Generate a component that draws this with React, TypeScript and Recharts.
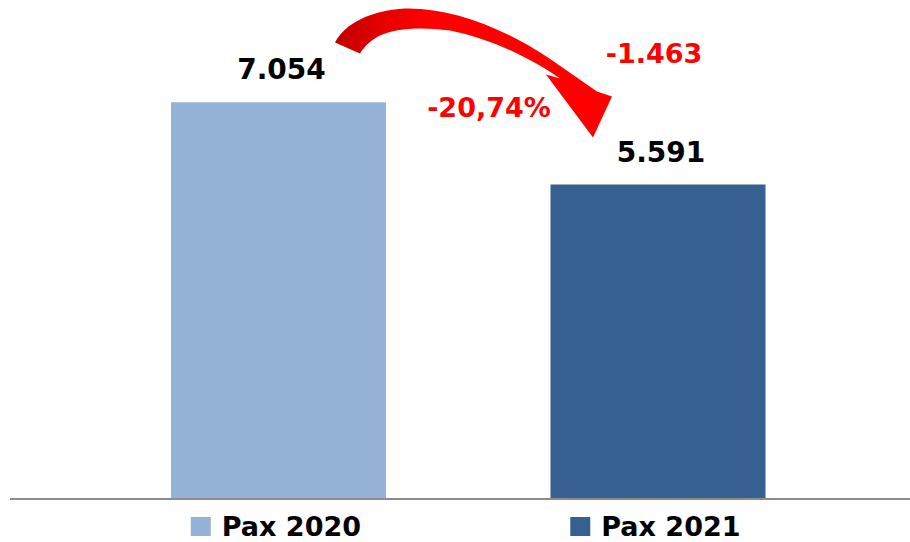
import React from 'react';
import { BarChart, Bar, XAxis, YAxis, Cell, LabelList } from 'recharts';

const categories = ['Pax 2020', 'Pax 2021'];
const paxValues = [7054, 5591];
const valueLabels = ['7.054', '5.591'];
const barColors = ['#95B3D7', '#366092'];
const changeAbsLabel = '-1.463';
const changePctLabel = '-20,74%';

const data = categories.map((name, i) => ({
  name,
  value: paxValues[i],
  label: valueLabels[i],
  color: barColors[i],
}));

const FONT = '"DejaVu Sans", Verdana, sans-serif';

const LegendTick = (props: any) => {
  const { x, y, payload, index } = props;
  const color = barColors[index] ?? barColors[0];
  return (
    <g>
      <rect x={x - 88} y={y + 18} width={20} height={19} fill={color} />
      <text
        x={x - 57}
        y={y + 37}
        fontFamily={FONT}
        fontWeight="bold"
        fontSize={27}
        fill="#000"
        textAnchor="start"
      >
        {payload.value}
      </text>
    </g>
  );
};

const ValueLabel = (props: any) => {
  const { x, y, width, index } = props;
  const cx = x + width / 2 + 3;
  const label = valueLabels[index];
  const els: React.ReactNode[] = [
    <text
      key="v"
      x={cx}
      y={y - 23}
      textAnchor="middle"
      fontFamily={FONT}
      fontWeight="bold"
      fontSize={28}
      fill="#000"
    >
      {label}
    </text>,
  ];
  if (index === 0) {
    // annotation anchored to the top-right corner of the first bar
    const ox = x + width - 386;
    const oy = y - 102.7;
    els.push(
      <g key="arrow" transform={`translate(${ox},${oy})`}>
        <defs>
          <linearGradient id="arrowGrad" gradientUnits="userSpaceOnUse" x1="335" y1="0" x2="470" y2="0">
            <stop offset="0" stopColor="#C00000" />
            <stop offset="0.35" stopColor="#E60000" />
            <stop offset="0.7" stopColor="#FF0000" />
            <stop offset="1" stopColor="#FF0000" />
          </linearGradient>
        </defs>
        <path
          d="M335,43 C345,24 370,11 405,9 C452,8 502,28 548,58 L597,92 L612,97 L593,138 L546,75 L560,79 C530,58 490,39 450,31 C420,27 395,29 380,36 C372,40 365,46 360,54 Z"
          fill="url(#arrowGrad)"
        />
        <text
          x={654}
          y={63}
          textAnchor="middle"
          fontFamily={FONT}
          fontWeight="bold"
          fontSize={27}
          fill="#FF0000"
        >
          {changeAbsLabel}
        </text>
        <text
          x={489}
          y={117}
          textAnchor="middle"
          fontFamily={FONT}
          fontWeight="bold"
          fontSize={27}
          fill="#FF0000"
        >
          {changePctLabel}
        </text>
      </g>
    );
  }
  return <g>{els}</g>;
};

export default function App() {
  return (
    <div style={{ position: 'absolute', left: 0, top: 0, background: '#fff' }}>
      <BarChart
        width={910}
        height={542}
        data={data}
        margin={{ top: 49, right: 0, left: 10, bottom: 0 }}
      >
        <XAxis
          dataKey="name"
          height={43}
          padding={{ left: 79, right: 62 }}
          axisLine={{ stroke: '#8c8c8c', strokeWidth: 2 }}
          tickLine={false}
          tickSize={0}
          tickMargin={0}
          tick={<LegendTick />}
          interval={0}
        />
        <YAxis hide domain={[0, 8000]} />
        <Bar dataKey="value" barSize={215} isAnimationActive={false}>
          {data.map((d, i) => (
            <Cell key={i} fill={d.color} />
          ))}
          <LabelList dataKey="value" content={<ValueLabel />} />
        </Bar>
      </BarChart>
    </div>
  );
}
